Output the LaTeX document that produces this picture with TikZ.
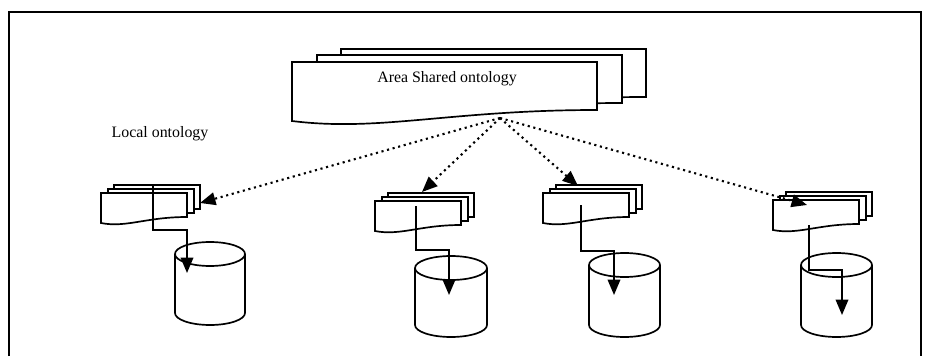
\documentclass[tikz,border=0pt]{standalone}
\usepackage{fontspec}
\setmainfont{Liberation Serif}
\usetikzlibrary{arrows.meta}

\begin{document}
\begin{tikzpicture}[x=0.025cm, y=0.025cm, line width=1.2pt,
    font=\fontsize{11.3}{13}\selectfont,
    sheet/.style={draw, fill=white},
    link/.style={-{Triangle[length=11pt,width=9pt]}},
    feed/.style={link, line width=1.5pt, dash pattern=on 1.5pt off 2.6pt}]
  \useasboundingbox (0,0) rectangle (933,356);
  % outer frame
  \draw (9,0) -- (9,344) -- (921,344) -- (921,0);

  % area shared ontology, three sheets
  \foreach \dx/\dy [evaluate=\dx as \L using 292+\dx, evaluate=\dy as \T using 294+\dy] in {49/13, 25/7, 0/0}
    \draw[sheet] (\L,\T) -- ({\L+305},\T) -- ({\L+305},{\T-48})
      .. controls ({\L+158},{\T-48}) and ({\L+88},{\T-70}) .. (\L,{\T-59}) -- cycle;
  \node (areatitle) at (447,277) {Area Shared ontology};
  \node (localtitle) at (160,222) {Local ontology};

  % local ontologies, three sheets each
  \foreach \gx/\gy in {101/163, 375/155, 543/163, 773/156}
    \foreach \dx/\dy in {13/8, 7/4, 0/0} {
      \pgfmathsetmacro{\L}{\gx+\dx}
      \pgfmathsetmacro{\T}{\gy+\dy}
      \draw[sheet] (\L,\T) -- ({\L+86},\T) -- ({\L+86},{\T-24})
        .. controls ({\L+45},{\T-24}) and ({\L+25},{\T-35}) .. (\L,{\T-30}) -- cycle;
    }

  % data stores
  \foreach \cx/\rx/\top/\bot in {210/35/114/31, 451/36/100/19, 624.5/35.5/103/19, 836.5/35.5/103/19} {
    \draw[fill=white] ({\cx-\rx},{\top-12}) -- ({\cx-\rx},{\bot+12})
      arc[start angle=180, end angle=360, x radius=\rx, y radius=12] -- ({\cx+\rx},{\top-12});
    \draw (\cx,{\top-12}) ellipse [x radius=\rx, y radius=12];
  }

  % mappings
  \coordinate (src) at (500,238);
  \coordinate (from1) at (153,171); \coordinate (to1) at (187,83);
  \coordinate (from2) at (416,150); \coordinate (to2) at (449,61);
  \coordinate (from3) at (581,151); \coordinate (to3) at (614,61);
  \coordinate (from4) at (809,131); \coordinate (to4) at (842,41);
  \coordinate (hit1) at (200,153);
  \coordinate (hit2) at (422,164);
  \coordinate (hit3) at (578,170);
  \coordinate (hit4) at (807,151);
  \foreach \i/\drop in {1/45, 2/44, 3/46, 4/45}
    \draw[link] (from\i) -- ++(0,-\drop) -| (to\i);
  \foreach \i in {1,...,4}
    \draw[feed] (src) -- (hit\i);
\end{tikzpicture}
\end{document}
